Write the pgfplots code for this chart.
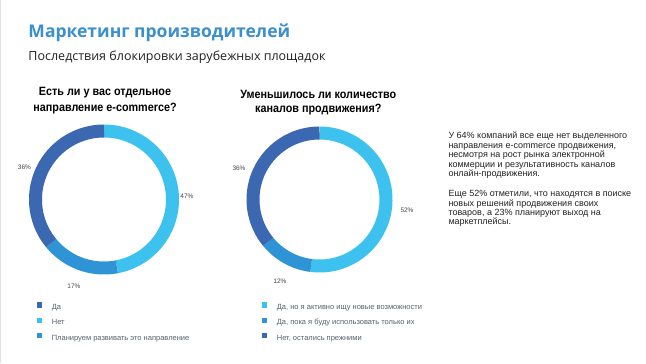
\documentclass[border=0pt]{standalone}
\usepackage{fontspec}
\usepackage{pgfplots}
\pgfplotsset{compat=1.18}
\setmainfont{Liberation Sans}
\newfontfamily\titlefont{Open Sans}
\newfontfamily\condfont[FakeStretch=0.9]{Liberation Sans}
\definecolor{titleblue}{HTML}{3A8FCF}
\definecolor{cdark}{HTML}{3C68B1}
\definecolor{clight}{HTML}{3DC1EE}
\definecolor{cmed}{HTML}{2F94D5}
\definecolor{leggray}{HTML}{55606B}
\definecolor{pctgray}{HTML}{444444}
\definecolor{bodytext}{HTML}{222222}
\pgfplotsset{sqleg/.style={legend image code/.code={\fill[##1, draw=none] (0bp,0bp) rectangle (5.2bp,5.2bp);}}}
% #1 start (cumulative %), #2 share (%), #3 colour, #4 ring radius
\newcommand\slice[4]{%
  \pgfmathsetmacro\sa{90-3.6*#1}%
  \pgfmathsetmacro\sb{90-3.6*(#1+#2)}%
  \edef\doslice{\noexpand\addplot[forget plot, draw=#3, line width=13bp, line cap=butt, domain=\sb:\sa, samples=100] ({#4*cos(x)},{#4*sin(x)});}%
  \doslice}
\pgfplotsset{donut/.style={scale only axis, hide axis, clip=false, anchor=center,
  legend cell align=left,
  legend style={draw=none, fill=none, inner sep=0pt, outer sep=0pt, anchor=north west,
    row sep=6bp, font=\fontsize{7.5bp}{9bp}\selectfont, text=leggray,
    nodes={inner sep=0pt, text height=6bp, text depth=2bp},
    /tikz/every odd column/.append style={column sep=10bp}}}}
\begin{document}
\begin{tikzpicture}[x=1bp,y=1bp]
\path[use as bounding box] (0,0) rectangle (646,363);
\fill[white] (0,0) rectangle (646,363);
\draw[black!12, line width=1bp] (0.5,0) -- (0.5,363);
\node[anchor=base west, inner sep=0, text=titleblue, font=\titlefont\bfseries\fontsize{17.5bp}{20bp}\selectfont] at (28.3,325.7) {Маркетинг производителей};
\node[anchor=base west, inner sep=0, text=bodytext, font=\titlefont\fontsize{12.5bp}{15bp}\selectfont] at (28.3,302.3) {Последствия блокировки зарубежных площадок};
% question titles
\node[anchor=base, inner sep=0, font=\condfont\bfseries\fontsize{12bp}{14bp}\selectfont] at (105,267.3) {Есть ли у вас отдельное};
\node[anchor=base, inner sep=0, font=\condfont\bfseries\fontsize{12bp}{14bp}\selectfont] at (105,252) {направление e-commerce?};
\node[anchor=base, inner sep=0, font=\condfont\bfseries\fontsize{12bp}{14bp}\selectfont] at (318.3,264.7) {Уменьшилось ли количество};
\node[anchor=base, inner sep=0, font=\condfont\bfseries\fontsize{12bp}{14bp}\selectfont] at (318.3,250.3) {каналов продвижения?};
% left donut
\begin{axis}[donut, at={(104bp,163.5bp)}, width=150bp, height=150bp,
  xmin=-75, xmax=75, ymin=-75, ymax=75,
  legend style={at={(0.051,-0.186)}}]
\addlegendimage{sqleg, fill=cdark}
\addlegendentry{Да}
\addlegendimage{sqleg, fill=clight}
\addlegendentry{Нет}
\addlegendimage{sqleg, fill=cmed}
\addlegendentry{Планируем развивать это направление}
\slice{0}{47}{clight}{68.5}
\slice{47}{17}{cmed}{68.5}
\slice{64}{36}{cdark}{68.5}
\node[font=\fontsize{6.5bp}{8bp}\selectfont, text=pctgray] at (axis cs:-79.5,31.8) {36\%};
\node[font=\fontsize{6.5bp}{8bp}\selectfont, text=pctgray] at (axis cs:83,3.5) {47\%};
\node[font=\fontsize{6.5bp}{8bp}\selectfont, text=pctgray] at (axis cs:-30,-87) {17\%};
\end{axis}
% right donut
\begin{axis}[donut, at={(319.5bp,163.5bp)}, width=146bp, height=146bp,
  xmin=-73, xmax=73, ymin=-73, ymax=73,
  legend style={at={(0.104,-0.205)}}]
\addlegendimage{sqleg, fill=clight}
\addlegendentry{Да, но я активно ищу новые возможности}
\addlegendimage{sqleg, fill=cmed}
\addlegendentry{Да, пока я буду использовать только их}
\addlegendimage{sqleg, fill=cdark}
\addlegendentry{Нет, остались прежними}
\slice{0}{52}{clight}{66.5}
\slice{52}{12}{cmed}{66.5}
\slice{64}{36}{cdark}{66.5}
\node[font=\fontsize{6.5bp}{8bp}\selectfont, text=pctgray] at (axis cs:-80.5,31) {36\%};
\node[font=\fontsize{6.5bp}{8bp}\selectfont, text=pctgray] at (axis cs:87.5,-10.5) {52\%};
\node[font=\fontsize{6.5bp}{8bp}\selectfont, text=pctgray] at (axis cs:-39.5,-82) {12\%};
\end{axis}
% right text
\begin{scope}[every node/.style={anchor=base west, inner sep=0, text=bodytext, font=\fontsize{9bp}{9.4bp}\selectfont}]
\node at (448.3,224.7) {У 64\% компаний все еще нет выделенного};
\node at (448.3,214.7) {направления e-commerce продвижения,};
\node at (448.3,205.3) {несмотря на рост рынка электронной};
\node at (448.3,196.0) {коммерции и результативность каналов};
\node at (448.3,186.7) {онлайн-продвижения.};
\node at (448.3,166.3) {Еще 52\% отметили, что находятся в поиске};
\node at (448.3,157.0) {новых решений продвижения своих};
\node at (448.3,147.7) {товаров, а 23\% планируют выход на};
\node at (448.3,138.7) {маркетплейсы.};
\end{scope}
\end{tikzpicture}
\end{document}
